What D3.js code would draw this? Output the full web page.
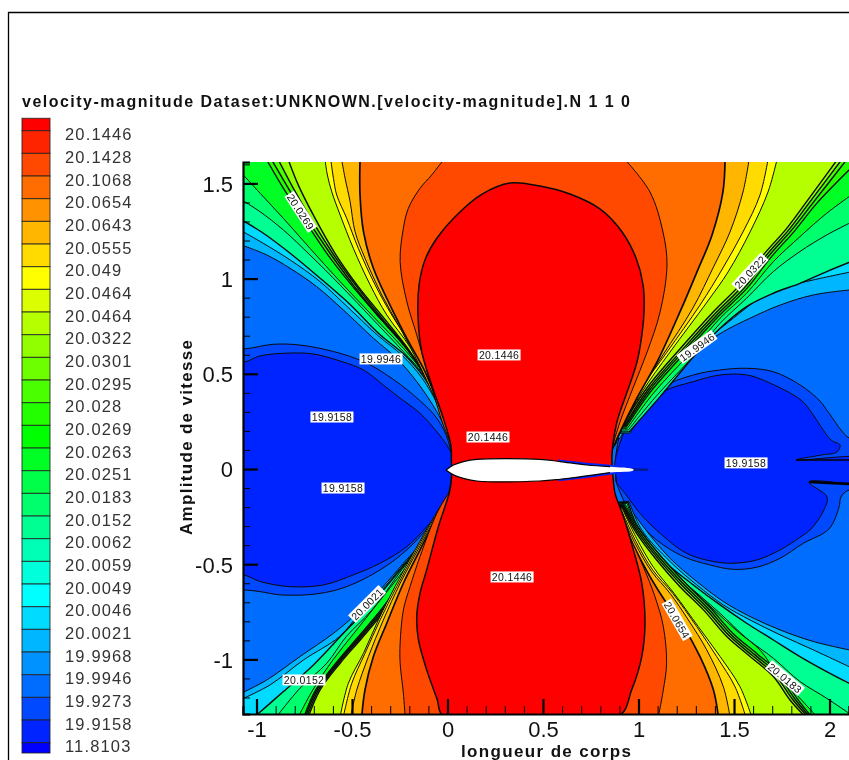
<!DOCTYPE html>
<html><head><meta charset="utf-8">
<script src="https://cdn.jsdelivr.net/npm/d3@7"></script>
<style>html,body{margin:0;padding:0;background:#fff;overflow:hidden}svg{display:block;font-family:"Liberation Sans",Arial,sans-serif;filter:blur(.4px)}</style>
</head><body><svg id="c" width="849" height="760"></svg>
<script>
const titleText="velocity-magnitude Dataset:UNKNOWN.[velocity-magnitude].N 1 1 0";
const legendLabels=["20.1446","20.1428","20.1068","20.0654","20.0643","20.0555","20.049","20.0464","20.0464","20.0322","20.0301","20.0295","20.028","20.0269","20.0263","20.0251","20.0183","20.0152","20.0062","20.0059","20.0049","20.0046","20.0021","19.9968","19.9946","19.9273","19.9158","11.8103"];
const legendColors=["#ff0000","#ff2400","#ff4900","#ff6d00","#ff9200","#ffb600","#ffdb00","#ffff00","#dbff00","#b6ff00","#92ff00","#6dff00","#49ff00","#24ff00","#00ff00","#00ff24","#00ff49","#00ff6d","#00ff92","#00ffb6","#00ffdb","#00ffff","#00dbff","#00b6ff","#0092ff","#006dff","#0049ff","#0024ff","#0000ff"];
const xMajor=[-1,-0.5,0,0.5,1,1.5,2], yMajor=[-1,-0.5,0,0.5,1,1.5];
const xMinor=[-1,-.9,-.8,-.7,-.6,-.4,-.3,-.2,-.1,.1,.2,.3,.4,.6,.7,.8,.9,1.1,1.2,1.3,1.4,1.6,1.7,1.8,1.9,2.1];
const yMinor=[-1.2,-1.1,-.9,-.8,-.7,-.6,-.4,-.3,-.2,-.1,.1,.2,.3,.4,.6,.7,.8,.9,1.1,1.2,1.3,1.4,1.6];

const levelColors=["#00b6ff","#00dbff","#00ff92","#00ff6d","#00ff24","#24ff00","#49ff00","#92ff00","#b6ff00","#ffff00","#ffdb00","#ffb600","#ff6d00","#ff4900"];
const levelWidths=[1,1,1.4,1,1,1.3,1.4,1.4,1.4,1,1,1,1.7,1];

const topLeft=[
[[-1.077,1.176],[-.946,1.124],[-.824,1.054],[-.685,.958],[-.545,.835],[-.388,.687],[-.266,.581],[-.161,.459],[-.056,.301],[.013,.161]],
[[-1.077,1.250],[-.964,1.185],[-.824,1.098],[-.667,.984],[-.519,.847],[-.362,.699],[-.240,.599],[-.135,.480],[-.046,.328],[.015,.175]],
[[-1.077,1.308],[-.964,1.238],[-.824,1.133],[-.667,1.002],[-.510,.864],[-.353,.705],[-.231,.605],[-.126,.485],[-.043,.336],[.017,.182]],
[[-1.077,1.413],[-.981,1.351],[-.859,1.255],[-.720,1.124],[-.562,.966],[-.388,.783],[-.231,.616],[-.126,.495],[-.039,.336],[.017,.188]],
[[-1.077,1.553],[-.981,1.448],[-.859,1.316],[-.720,1.159],[-.562,.984],[-.388,.800],[-.231,.634],[-.123,.500],[-.035,.340],[.019,.193]],
[[-.946,1.623],[-.859,1.474],[-.754,1.316],[-.632,1.133],[-.510,.975],[-.353,.791],[-.222,.643],[-.118,.503],[-.030,.345],[.020,.196]],
[[-.920,1.623],[-.833,1.474],[-.737,1.316],[-.615,1.133],[-.493,.966],[-.344,.783],[-.213,.630],[-.112,.480],[-.029,.301],[.020,.170]],
[[-.885,1.623],[-.807,1.474],[-.716,1.316],[-.601,1.133],[-.479,.963],[-.332,.778],[-.205,.624],[-.107,.469],[-.025,.284],[.020,.160]],
[[-.833,1.623],[-.781,1.491],[-.693,1.316],[-.589,1.133],[-.467,.958],[-.318,.774],[-.196,.616],[-.100,.459],[-.022,.267],[.020,.144]],
[[-.641,1.623],[-.629,1.544],[-.606,1.456],[-.562,1.334],[-.493,1.159],[-.405,.967],[-.318,.809],[-.196,.640],[-.091,.445],[-.018,.260],[.022,.126]],
[[-.611,1.623],[-.597,1.526],[-.580,1.439],[-.528,1.317],[-.467,1.159],[-.379,.967],[-.292,.809],[-.179,.630],[-.077,.430],[-.011,.255],[.024,.126]],
[[-.554,1.623],[-.536,1.526],[-.510,1.404],[-.484,1.247],[-.432,1.107],[-.344,.914],[-.248,.739],[-.144,.540],[-.050,.330],[.016,.150]],
[[-.458,1.623],[-.458,1.439],[-.440,1.247],[-.388,1.054],[-.301,.861],[-.213,.686],[-.118,.511],[-.039,.319],[.017,.161]],
[[-.022,1.623],[-.083,1.544],[-.144,1.474],[-.205,1.369],[-.231,1.264],[-.248,1.089],[-.213,.879],[-.161,.704],[-.091,.459],[-.022,.231],[.020,.126]]
];
const topRight=[
[[2.102,.940],[1.915,.914],[1.741,.861],[1.584,.792],[1.444,.721],[1.287,.617],[1.147,.494],[1.008,.336],[.903,.161]],
[[2.102,1.033],[1.915,.993],[1.776,.958],[1.636,.897],[1.496,.792],[1.357,.678],[1.217,.555],[1.095,.398],[.955,.188]],
[[2.102,1.085],[1.985,1.037],[1.845,.975],[1.706,.923],[1.566,.853],[1.427,.739],[1.296,.599],[1.113,.380],[.952,.196]],
[[2.102,1.290],[1.985,1.229],[1.845,1.142],[1.706,1.037],[1.566,.897],[1.427,.765],[1.296,.603],[1.095,.385],[.947,.205]],
[[2.102,1.430],[1.985,1.343],[1.845,1.220],[1.706,1.089],[1.566,.923],[1.427,.792],[1.278,.617],[1.078,.398],[.942,.214]],
[[2.102,1.570],[1.933,1.395],[1.821,1.255],[1.688,1.105],[1.566,.947],[1.423,.806],[1.261,.630],[1.064,.407],[.936,.221]],
[[2.090,1.625],[1.915,1.400],[1.807,1.261],[1.676,1.112],[1.556,.954],[1.413,.812],[1.252,.637],[1.057,.413],[.931,.225]],
[[2.064,1.625],[1.898,1.404],[1.793,1.264],[1.666,1.119],[1.545,.961],[1.404,.819],[1.245,.644],[1.051,.419],[.926,.228]],
[[2.041,1.625],[1.880,1.404],[1.776,1.264],[1.653,1.124],[1.531,.967],[1.392,.826],[1.235,.651],[1.043,.424],[.921,.231],[.877,.126]],
[[1.725,1.625],[1.678,1.455],[1.584,1.245],[1.469,1.035],[1.359,.877],[1.165,.614],[1.018,.404],[.914,.215],[.877,.126]],
[[1.678,1.625],[1.636,1.439],[1.547,1.245],[1.442,1.056],[1.322,.861],[1.149,.614],[1.008,.415],[.903,.226],[.872,.126]],
[[1.579,1.625],[1.547,1.455],[1.479,1.245],[1.390,1.056],[1.285,.846],[1.128,.599],[1.003,.404],[.900,.215],[.870,.126]],
[[1.453,1.625],[1.442,1.455],[1.385,1.229],[1.306,1.035],[1.217,.825],[1.097,.562],[.992,.373],[.903,.194],[.866,.110]],
[[.930,1.625],[1.060,1.455],[1.128,1.245],[1.149,1.071],[1.113,.825],[1.045,.614],[.971,.425],[.903,.247],[.866,.126]]
];
const bottomLeft=[
[[-1.08,-1.178],[-.946,-1.108],[-.772,-.985],[-.597,-.863],[-.493,-.775],[-.353,-.635],[-.231,-.495],[-.109,-.355],[-.022,-.215]],
[[-1.08,-1.21],[-.929,-1.134],[-.754,-1.003],[-.565,-.880],[-.46,-.758],[-.35,-.644],[-.24,-.513],[-.113,-.364],[-.020,-.224]],
[[-1.008,-1.30],[-.859,-1.169],[-.702,-1.029],[-.545,-.863],[-.41,-.723],[-.255,-.539],[-.105,-.355],[-.018,-.233]],
[[-.894,-1.30],[-.772,-1.151],[-.632,-1.020],[-.530,-.880],[-.395,-.740],[-.240,-.530],[-.100,-.346],[-.018,-.233]],
[[-.78,-1.30],[-.705,-1.160],[-.600,-1.003],[-.490,-.863],[-.365,-.705],[-.215,-.513],[-.085,-.329],[-.016,-.229]],
[[-.751,-1.30],[-.690,-1.160],[-.585,-1.020],[-.474,-.889],[-.342,-.731],[-.200,-.530],[-.080,-.338],[-.014,-.22]],
[[-.744,-1.30],[-.683,-1.160],[-.578,-1.020],[-.466,-.889],[-.334,-.731],[-.193,-.530],[-.075,-.338],[-.012,-.218]],
[[-.736,-1.30],[-.675,-1.160],[-.570,-1.020],[-.458,-.889],[-.326,-.731],[-.186,-.530],[-.070,-.338],[-.010,-.216]],
[[-.728,-1.30],[-.667,-1.160],[-.562,-1.020],[-.449,-.889],[-.318,-.731],[-.179,-.530],[-.065,-.338],[-.008,-.215]],
[[-.562,-1.30],[-.519,-1.125],[-.440,-.968],[-.362,-.793],[-.275,-.618],[-.170,-.425],[-.070,-.250],[-.006,-.145]],
[[-.545,-1.30],[-.501,-1.125],[-.432,-.968],[-.353,-.793],[-.266,-.618],[-.163,-.425],[-.066,-.250],[-.004,-.145]],
[[-.507,-1.30],[-.475,-1.160],[-.414,-.985],[-.336,-.793],[-.248,-.600],[-.155,-.425],[-.060,-.250],[-.002,-.145]],
[[-.449,-1.30],[-.432,-1.160],[-.388,-.985],[-.318,-.810],[-.231,-.600],[-.144,-.425],[-.056,-.250],[.000,-.145]],
[[-.222,-1.30],[-.231,-1.178],[-.248,-1.020],[-.248,-.915],[-.231,-.740],[-.196,-.618],[-.144,-.460],[-.056,-.233],[.005,-.128]]
];
const bottomRight=[
[[2.102,-.950],[1.915,-.906],[1.741,-.845],[1.584,-.775],[1.444,-.696],[1.305,-.591],[1.165,-.469],[1.025,-.303],[.938,-.180]],
[[2.102,-1.038],[1.915,-.950],[1.741,-.871],[1.584,-.793],[1.444,-.714],[1.305,-.609],[1.165,-.486],[1.017,-.320],[.95,-.17]],
[[2.102,-1.125],[1.985,-1.064],[1.845,-.985],[1.706,-.898],[1.566,-.810],[1.427,-.714],[1.287,-.609],[1.147,-.495],[1.008,-.329],[.945,-.175]],
[[2.102,-1.283],[1.985,-1.204],[1.845,-1.116],[1.706,-.994],[1.566,-.889],[1.427,-.758],[1.287,-.635],[1.147,-.513],[1.008,-.346],[.94,-.18]],
[[1.933,-1.30],[1.845,-1.204],[1.723,-1.073],[1.640,-.955],[1.515,-.85],[1.39,-.735],[1.26,-.612],[1.13,-.47],[1.02,-.335],[.93,-.185]],
[[1.905,-1.30],[1.825,-1.198],[1.742,-1.075],[1.620,-.970],[1.496,-.865],[1.372,-.725],[1.248,-.602],[1.118,-.46],[1.008,-.323],[.924,-.19]],
[[1.895,-1.30],[1.815,-1.203],[1.730,-1.080],[1.608,-.975],[1.485,-.870],[1.362,-.730],[1.238,-.607],[1.110,-.466],[1.002,-.328],[.920,-.193]],
[[1.885,-1.30],[1.805,-1.208],[1.718,-1.085],[1.596,-.980],[1.474,-.875],[1.352,-.735],[1.228,-.612],[1.103,-.472],[.996,-.333],[.917,-.195]],
[[1.872,-1.30],[1.793,-1.213],[1.706,-1.090],[1.584,-.985],[1.462,-.880],[1.340,-.740],[1.217,-.618],[1.095,-.478],[.990,-.338],[.912,-.198]],
[[1.592,-1.30],[1.531,-1.143],[1.427,-.985],[1.313,-.828],[1.186,-.653],[1.078,-.516],[.990,-.364],[.914,-.206]],
[[1.561,-1.30],[1.505,-1.143],[1.409,-.985],[1.305,-.828],[1.179,-.653],[1.074,-.530],[.987,-.381],[.910,-.215]],
[[1.479,-1.30],[1.444,-1.143],[1.357,-.950],[1.261,-.793],[1.165,-.653],[1.069,-.539],[.982,-.390],[.906,-.224]],
[[1.418,-1.30],[1.392,-1.160],[1.322,-.985],[1.235,-.828],[1.147,-.705],[1.060,-.565],[.973,-.400],[.903,-.235]],
[[1.104,-1.30],[1.130,-1.160],[1.147,-1.020],[1.130,-.828],[1.086,-.670],[1.025,-.513],[.955,-.355],[.886,-.163]]
];
const centralBulb=[[.020,.05],[.017,.126],[-.022,.267],[-.083,.441],[-.135,.616],[-.154,.793],[-.149,.966],[-.118,1.098],[-.055,1.213],[.065,1.350],[.181,1.444],[.327,1.502],[.484,1.486],[.641,1.444],[.798,1.366],[.914,1.245],[.987,1.108],[1.024,.966],[1.029,.835],[1.017,.70],[.992,.562],[.940,.404],[.887,.247],[.861,.074],[.868,-.058],[.877,-.128],[.921,-.250],[.973,-.425],[1.017,-.600],[1.034,-.810],[1.017,-.985],[.964,-1.160],[.894,-1.30],[-.018,-1.30],[-.056,-1.204],[-.109,-1.055],[-.152,-.898],[-.161,-.775],[-.144,-.653],[-.109,-.530],[-.048,-.303],[.013,-.110],[.022,-.02]];
const leftOuterBubble=[[-1.3,.63],[-1.069,.630],[-.911,.655],[-.772,.651],[-.597,.617],[-.440,.564],[-.318,.494],[-.179,.389],[-.056,.267],[.005,.144],[.026,0],[.024,-.075],[-.004,-.180],[-.091,-.294],[-.213,-.425],[-.353,-.530],[-.528,-.618],[-.685,-.656],[-.877,-.661],[-.981,-.644],[-1.069,-.635],[-1.3,-.635]];
const leftInnerBubble=[[-1.3,.56],[-1.069,.560],[-.981,.594],[-.824,.609],[-.702,.604],[-.562,.567],[-.440,.520],[-.336,.441],[-.248,.372],[-.144,.293],[-.056,.196],[-.004,.126],[.022,.074],[.026,0],[.024,-.005],[.013,-.093],[-.022,-.198],[-.109,-.303],[-.213,-.408],[-.353,-.495],[-.493,-.556],[-.650,-.609],[-.824,-.618],[-.981,-.591],[-1.069,-.556],[-1.3,-.556]];
const rightOuterBubble=[[.88,.06],[.903,.179],[.973,.301],[1.113,.424],[1.287,.494],[1.427,.520],[1.566,.529],[1.706,.511],[1.845,.442],[1.945,.362],[1.997,.294],[2.060,.205],[2.102,.163],[2.3,.1],[2.3,-.1],[2.102,-.110],[2.060,-.147],[2.050,-.2],[1.997,-.315],[1.863,-.390],[1.741,-.469],[1.619,-.516],[1.496,-.527],[1.374,-.504],[1.235,-.460],[1.095,-.373],[.990,-.267],[.921,-.162],[.88,-.06]];
const rightInnerBubble=[[.875,.03],[.894,.109],[.973,.284],[1.130,.407],[1.287,.459],[1.427,.494],[1.566,.494],[1.671,.459],[1.851,.362],[1.908,.294],[1.956,.221],[2.008,.152],[2.055,.126],[2.039,.089],[1.961,.074],[1.825,.047],[2.3,.047],[2.3,-.074],[1.893,-.068],[1.987,-.147],[1.971,-.215],[1.903,-.315],[1.845,-.359],[1.741,-.425],[1.619,-.478],[1.496,-.495],[1.392,-.486],[1.252,-.443],[1.113,-.338],[1.008,-.233],[.929,-.128],[.886,-.075]];
const wakeUpper=[[1.825,.047],[2.3,.047]];
const wakeLower=[[1.893,-.068],[2.102,-.078]];
const airfoilTailLine=[[.95,-.003],[1.05,-.004]];
const airfoilTail=[[.58,.05],[.73,.033],[.851,.022],[1.05,-.004],[.851,-.03],[.73,-.047],[.58,-.065]];
const airfoilUpper=[[-.008,-.005],[.031,.021],[.083,.039],[.153,.051],[.484,.051],[.589,.039],[.729,.021],[.851,.012],[.973,-.001]];
const airfoilLower=[[.973,-.008],[.851,-.019],[.729,-.036],[.589,-.054],[.484,-.063],[.153,-.063],[.083,-.049],[.031,-.031],[-.008,-.005]];
const contourLabels=[
 [-.348,.578,"19.9946",0],[.27,.599,"20.1446",0],[-.605,.273,"19.9158",0],[.212,.168,"20.1446",0],
 [-.547,-.100,"19.9158",0],[1.563,.032,"19.9158",0],[.338,-.567,"20.1446",0],[-.421,-.709,"20.0021",-45],
 [-.751,-1.108,"20.0152",0],[1.202,-.793,"20.0654",60],[1.767,-1.098,"20.0183",40],[1.584,1.035,"20.0322",-47],
 [1.306,.641,"19.9946",-36],[-.768,1.351,"20.0269",57]
];

const svg=d3.select("#c");
const W=849,H=760,plotL=243,plotR=849,plotT=162,plotB=714;
const x=d3.scaleLinear().domain([-1.0707,2.102]).range([plotL,plotR]);
const y=d3.scaleLinear().domain([-1.2868,1.6124]).range([plotB,plotT]);

// frame
svg.append("path").attr("d",`M8.5,${H}V12.5H${W}`).attr("fill","none").attr("stroke","#000").attr("stroke-width",1.3);

// title
svg.append("text").attr("x",22).attr("y",107).attr("font-size",16).attr("font-weight","bold").attr("fill","#111")
 .attr("textLength",608).attr("lengthAdjust","spacing").text(titleText);

// legend
const legY=d3.scaleLinear().domain([0,27]).range([130.7,742.7]);
const sw=svg.append("g");
legendColors.forEach((c,i)=>{
  const y0=i===0?118.3:legY(i-1), y1=i===28?753:legY(i);
  sw.append("rect").attr("x",22).attr("width",28).attr("y",y0).attr("height",y1-y0).attr("fill",c).attr("stroke","#222").attr("stroke-opacity",.85).attr("stroke-width",1);
});
svg.append("g").selectAll("text").data(legendLabels).join("text")
 .attr("x",65).attr("y",(d,i)=>legY(i)+9.5).attr("font-size",16.5).attr("fill","#333").attr("letter-spacing",1.15).text(d=>d);

// plot
const defs=svg.append("defs");
defs.append("clipPath").attr("id","plot").append("rect").attr("x",plotL).attr("y",plotT).attr("width",plotR-plotL).attr("height",plotB-plotT);
const plot=svg.append("g").attr("clip-path","url(#plot)");
plot.append("rect").attr("x",plotL).attr("y",plotT).attr("width",plotR-plotL).attr("height",plotB-plotT).attr("fill","#006dff");

const smooth=d3.line().x(d=>x(d[0])).y(d=>y(d[1])).curve(d3.curveCatmullRom.alpha(.5));
const poly=(pts,fill,w=1)=>plot.append("path").attr("d",smooth(pts)+"Z").attr("fill",fill).attr("stroke","#0a0a0a").attr("stroke-width",w).attr("stroke-linejoin","round");

poly(leftOuterBubble,"#0049ff");poly(leftInnerBubble,"#0024ff");
poly(rightOuterBubble,"#0049ff");poly(rightInnerBubble,"#0024ff");
[wakeUpper].forEach(l=>plot.append("path").attr("d",smooth(l)).attr("stroke","#000").attr("stroke-width",1.6).attr("fill","none"));
[wakeLower].forEach(l=>plot.append("path").attr("d",smooth(l)).attr("stroke","#000").attr("stroke-width",2.6).attr("fill","none"));

function fan(lefts,rights,yFar){
  levelColors.forEach((c,k)=>{
    const a=lefts[k], b=rights[k].slice().reverse();
    const aOut=a[0], bOut=b[b.length-1];
    const tail=[];
    if(bOut[0]>2.085){tail.push([2.5,bOut[1]],[2.5,yFar]);} else tail.push([bOut[0],yFar]);
    if(aOut[0]<-1.06){tail.push([-1.4,yFar],[-1.4,aOut[1]]);} else tail.push([aOut[0],yFar]);
    const d=smooth(a)+"L"+smooth(b).slice(1)+tail.map(p=>`L${x(p[0])},${y(p[1])}`).join("")+"Z";
    plot.append("path").attr("d",d).attr("fill",c).attr("stroke","#0a0a0a").attr("stroke-width",levelWidths[k]).attr("stroke-linejoin","round");
  });
}
fan(topLeft,topRight,2.0);
fan(bottomLeft,bottomRight,-1.7);
poly(centralBulb,"#ff0000",1.5);

// airfoil
const straight=d3.line().x(d=>x(d[0])).y(d=>y(d[1]));
plot.append("path").attr("d",straight(airfoilTail)+"Z").attr("fill","#0024ff");
plot.append("path").attr("d",straight(airfoilTailLine)).attr("fill","none").attr("stroke","#001a90").attr("stroke-width",2.5);
plot.append("path").attr("d",smooth(airfoilUpper.concat(airfoilLower))+"Z").attr("fill","#fff");
[airfoilUpper,airfoilLower].forEach(a=>plot.append("path").attr("d",smooth(a.filter(p=>p[0]<.86))).attr("fill","none").attr("stroke","#000").attr("stroke-width",1.2));

// contour labels
const lab=plot.append("g").selectAll("g").data(contourLabels).join("g")
 .attr("transform",d=>`translate(${x(d[0])},${y(d[1])}) rotate(${d[3]})`);
lab.append("rect").attr("x",-21.5).attr("y",-5.5).attr("width",43).attr("height",11).attr("fill","#fff");
lab.append("text").attr("text-anchor","middle").attr("y",4).attr("font-size",10.5).attr("letter-spacing",.35).attr("fill","#111").text(d=>d[2]);

// axes
const tickText=d=>String(d);
const style=(g,w)=>{g.selectAll("path.domain").attr("stroke","#000").attr("stroke-width",2);g.selectAll(".tick line").attr("stroke","#000").attr("stroke-width",w);};
const gx=svg.append("g").attr("transform",`translate(0,${plotB})`);
gx.append("g").call(d3.axisBottom(x).tickValues(xMinor).tickSize(-8).tickFormat("")).call(g=>style(g,1)).select(".domain").attr("stroke-width",2.2);
gx.append("g").call(d3.axisBottom(x).tickValues(xMajor).tickSize(-15).tickSizeOuter(0).tickPadding(0).tickFormat(tickText))
 .call(g=>style(g,2.2)).call(g=>g.select(".domain").remove())
 .selectAll("text").attr("y",23).attr("dy",0).attr("font-family","Liberation Sans").attr("font-size",22).attr("fill","#111");
const gy=svg.append("g").attr("transform",`translate(${plotL},0)`);
gy.append("g").call(d3.axisLeft(y).tickValues(yMinor).tickSize(-7).tickFormat("")).call(g=>style(g,1)).select(".domain").attr("stroke-width",2.2);
gy.append("g").call(d3.axisLeft(y).tickValues(yMajor).tickSize(-15).tickSizeOuter(0).tickFormat(tickText))
 .call(g=>style(g,2.2)).call(g=>g.select(".domain").remove())
 .selectAll("text").attr("x",-10).attr("dy","0.36em").attr("font-family","Liberation Sans").attr("font-size",22).attr("fill","#111");

svg.append("text").attr("x",546).attr("y",757).attr("text-anchor","middle").attr("font-size",17).attr("font-weight","bold").attr("fill","#111")
 .attr("textLength",170).attr("lengthAdjust","spacing").text("longueur de corps");
svg.append("text").attr("transform","translate(192,437.5) rotate(-90)").attr("text-anchor","middle").attr("font-size",17).attr("font-weight","bold").attr("fill","#111")
 .attr("textLength",195).attr("lengthAdjust","spacing").text("Amplitude de vitesse");
</script></body></html>
